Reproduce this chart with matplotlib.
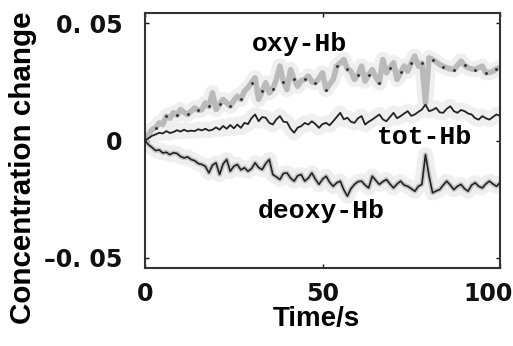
import numpy as np
import matplotlib
matplotlib.use("Agg")
import matplotlib.pyplot as plt
from matplotlib.transforms import ScaledTranslation

# time axis (s) and concentration changes (x 1e-3)
time_s = list(range(0, 101))
scale = 1e-3

oxy_hb = [0.0, 2.5, 4.7, 5.5, 7.5, 6.8, 10.4, 9.5, 11.8, 10.8,
          13.2, 12.0, 11.1, 12.5, 13.9, 12.8, 13.2, 16.0, 14.5, 20.3,
          13.2, 15.5, 17.5, 16.0, 14.6, 17.0, 18.9, 17.5, 21.0, 22.5,
          24.6, 26.7, 17.5, 21.0, 24.6, 20.3, 22.0, 26.0, 31.7, 25.0,
          21.7, 30.2, 26.0, 23.1, 25.5, 26.0, 27.4, 25.0, 24.6, 26.5,
          28.8, 21.7, 24.0, 26.0, 31.7, 33.0, 34.5, 30.5, 29.5, 26.0,
          28.0, 31.7, 25.3, 28.0, 30.2, 27.0, 24.6, 34.5, 28.8, 31.0,
          33.1, 26.0, 29.0, 31.7, 29.5, 33.0, 35.9, 31.7, 33.0, 16.0,
          35.2, 34.5, 33.5, 32.4, 31.5, 31.0, 30.5, 30.2, 32.0, 33.8,
          32.0, 31.0, 30.5, 30.2, 31.0, 31.7, 28.8, 29.0, 29.5, 30.5,
          31.0]

tot_hb = [0.0, 1.0, 2.0, 2.6, 3.3, 3.0, 4.0, 3.2, 3.6, 4.4,
          3.8, 4.6, 3.9, 4.2, 4.0, 4.8, 4.3, 5.0, 4.2, 4.6,
          5.6, 4.6, 6.2, 5.0, 6.6, 5.2, 6.8, 5.4, 7.5, 7.0,
          9.5, 11.1, 8.2, 10.0, 9.7, 7.5, 6.8, 9.0, 10.4, 8.0,
          7.8, 5.0, 3.3, 5.5, 6.1, 7.5, 6.8, 8.2, 7.0, 5.4,
          7.0, 7.5, 6.5, 8.2, 10.0, 11.8, 9.0, 9.7, 8.0, 7.5,
          9.5, 10.4, 6.8, 8.0, 8.9, 10.0, 11.1, 9.0, 8.2, 10.0,
          11.8, 9.5, 10.4, 11.5, 12.5, 10.5, 11.1, 12.2, 13.2, 15.3,
          12.5, 13.0, 13.9, 12.0, 11.8, 13.5, 14.6, 12.5, 11.8, 13.0,
          12.5, 11.5, 11.1, 9.5, 8.9, 10.4, 9.5, 8.9, 10.0, 11.1,
          10.5]

deoxy_hb = [0.0, -1.8, -3.0, -4.3, -4.0, -5.3, -5.0, -6.0, -5.2, -5.5,
            -6.8, -7.4, -7.0, -8.1, -8.6, -9.8, -10.2, -11.0, -13.8, -10.5,
            -9.5, -14.5, -10.0, -8.1, -13.1, -11.0, -10.2, -12.5, -11.6, -13.1,
            -12.0, -9.5, -11.5, -12.4, -9.8, -8.1, -14.5, -15.5, -16.6, -14.0,
            -13.8, -16.0, -17.3, -15.0, -14.5, -17.3, -16.0, -13.8, -16.5, -18.7,
            -16.5, -15.2, -17.8, -19.5, -18.0, -17.3, -21.0, -23.7, -20.5, -18.7,
            -17.5, -17.3, -19.0, -20.2, -15.2, -17.0, -18.7, -17.5, -16.6, -18.5,
            -20.2, -18.5, -17.3, -19.0, -19.5, -20.5, -21.6, -19.5, -18.7, -6.0,
            -15.0, -22.3, -21.5, -20.9, -19.0, -17.3, -19.0, -20.9, -19.5, -18.7,
            -20.5, -21.6, -19.0, -18.0, -19.5, -20.2, -18.5, -17.3, -18.5, -19.5,
            -18.0]

yticks = [-0.05, 0, 0.05]
ytick_labels = ["\u20130. 05", "0", "0. 05"]
xticks = [0, 50, 100]
xtick_labels = ["0", "50", "100"]

t = np.array(time_s)
oxy = np.array(oxy_hb) * scale
tot = np.array(tot_hb) * scale
deoxy = np.array(deoxy_hb) * scale

fig = plt.figure(figsize=(5.13, 3.46), dpi=100)
ax = fig.add_axes([0.2827, 0.2254, 0.692, 0.737])

# faint haze of raw samples around each trace
for y in (oxy, tot, deoxy):
    ax.plot(t, y, color="#efefef", lw=11, solid_capstyle="round", zorder=1)

ax.plot(t, oxy, color="#bababa", lw=4, zorder=2)
ax.plot(t[::3], oxy[::3], ls="none", marker=".", ms=2.2, color="#333333", zorder=3)
ax.plot(t, deoxy, color="#c8c8c8", lw=3.5, zorder=2)
ax.plot(t, deoxy, color="#222222", lw=1.2, zorder=3)
ax.plot(t, tot, color="#222222", lw=1.3, zorder=3)

lab_font = dict(family=["Liberation Mono", "DejaVu Sans Mono"], weight="bold", fontsize=19)
ax.text(43.4, 0.041, "oxy-Hb", ha="center", va="center", **lab_font)
ax.text(78.6, 0.0017, "tot-Hb", ha="center", va="center", **lab_font)
ax.text(49.6, -0.0302, "deoxy-Hb", ha="center", va="center", **lab_font)

ax.set_xlim(0, 100)
ax.set_ylim(-0.0543, 0.0543)
ax.set_xticks(xticks)
ax.set_xticklabels(xtick_labels)
ax.set_yticks(yticks)
ax.set_yticklabels(ytick_labels)
ax.tick_params(direction="in", length=3, width=1, top=True, right=True,
               labelsize=17, colors="#111111")
ax.tick_params(axis="x", pad=10)
ax.tick_params(axis="y", pad=16)
for lab in ax.get_xticklabels() + ax.get_yticklabels():
    lab.set_fontweight("bold")
    lab.set_family("DejaVu Sans")
# the last x label sits a little left of its tick, as in the source
last = ax.get_xticklabels()[-1]
last.set_transform(last.get_transform() + ScaledTranslation(-12 / 100, 0, fig.dpi_scale_trans))
for sp in ax.spines.values():
    sp.set_linewidth(1.5)
    sp.set_color("#333333")

fig.text(316 / 513, 1 - 319 / 346, "Time/s", ha="center", va="center",
         fontsize=20, fontweight="bold", family="Liberation Sans")
fig.text(23 / 513, 1 - 168 / 346, "Concentration change", ha="center", va="center",
         rotation=90, fontsize=21.3, fontweight="bold", family="Liberation Sans")

fig.savefig("out.png", dpi=100)
